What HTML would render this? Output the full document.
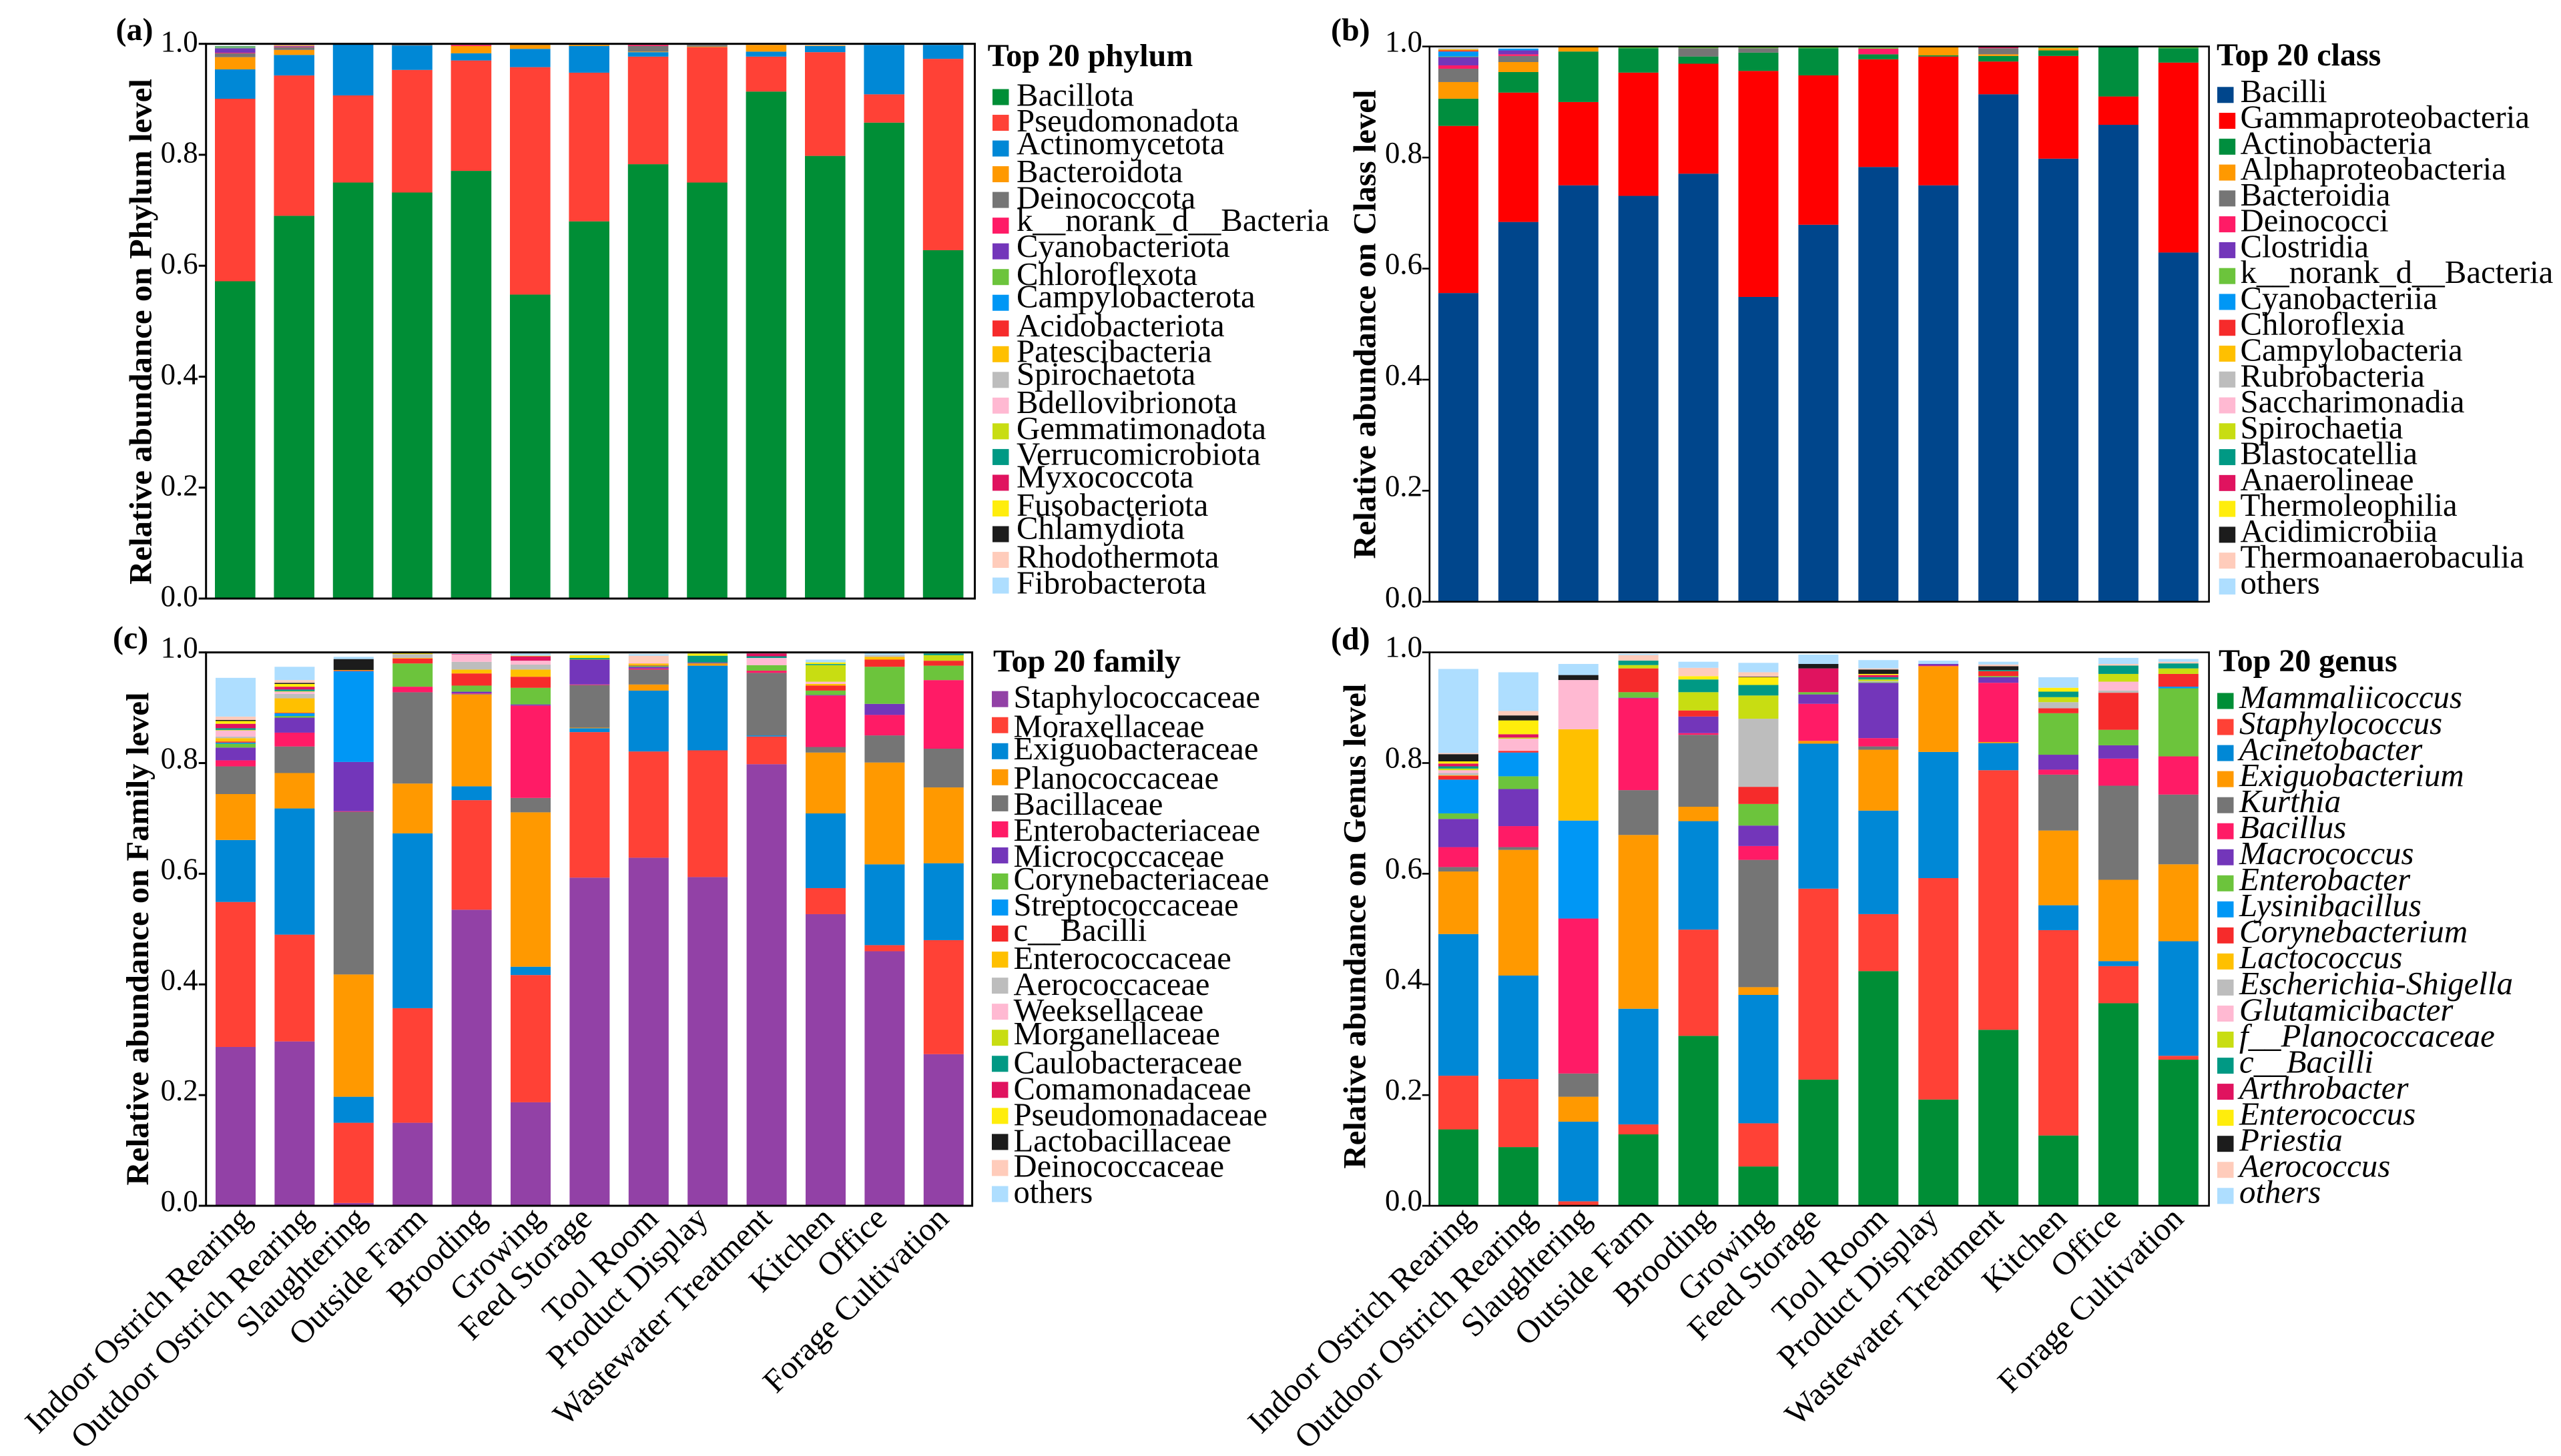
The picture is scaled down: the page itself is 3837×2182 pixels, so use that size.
<!DOCTYPE html>
<html lang="en">
<head>
<meta charset="utf-8">
<title>Relative abundance at phylum, class, family and genus level</title>
<style>
html,body{margin:0;padding:0;background:#fff;width:3837px;height:2182px;overflow:hidden}
svg{display:block}
text{font-family:"Liberation Serif",serif;fill:#000}
</style>
</head>
<body>
<svg id="chart" xmlns="http://www.w3.org/2000/svg" width="3837" height="2182" viewBox="0 0 3837 2182"></svg>
<script>
const categories = ["Indoor Ostrich Rearing","Outdoor Ostrich Rearing","Slaughtering","Outside Farm","Brooding","Growing","Feed Storage","Tool Room","Product Display","Wastewater Treatment","Kitchen","Office","Forage Cultivation"];
const tickValues = [0,0.2,0.4,0.6,0.8,1.0];
const tickLabels = ["0.0","0.2","0.4","0.6","0.8","1.0"];

/* Panel (a) phylum */
const phylumNames = ["Bacillota","Pseudomonadota","Actinomycetota","Bacteroidota","Deinococcota","k__norank_d__Bacteria","Cyanobacteriota","Chloroflexota","Campylobacterota","Acidobacteriota","Patescibacteria","Spirochaetota","Bdellovibrionota","Gemmatimonadota","Verrucomicrobiota","Myxococcota","Fusobacteriota","Chlamydiota","Rhodothermota","Fibrobacterota"];
const phyBacillota = [.572,.690,.750,.732,.771,.548,.680,.783,.750,.914,.798,.858,.628];
const phyPseudomonadota = [.329,.253,.157,.221,.199,.410,.268,.194,.244,.063,.187,.051,.345];
const phyActinomycetota = [.053,.037,.092,.044,.013,.033,.048,.008,0,.009,.011,.089,.025];
const phyBacteroidota = [.022,.009,0,0,.013,.007,.002,.001,.001,.012,.001,0,0];
const phyDeinococcota = [.007,.005,0,.002,0,.001,0,.010,.003,0,0,0,0];
const phyNorank = [.001,.001,0,0,.002,0,0,.002,0,0,0,0,0];
const phyCyanobacteriota = [.008,.001,0,0,0,0,0,0,0,0,0,0,0];
const phyChloroflexota = [.001,0,0,0,0,0,0,0,0,0,0,0,0];
const phyCampylobacterota = [.001,0,0,0,0,0,0,0,0,0,0,0,0];
const phyAcidobacteriota = [0,0,0,0,0,0,0,0,0,0,0,0,0];
const phyPatescibacteria = [.001,.001,0,0,0,0,0,0,0,0,0,0,0];
const phySpirochaetota = [0,.0005,0,0,0,0,0,0,0,0,0,0,0];
const phyBdellovibrionota = [0,0,0,0,0,0,0,0,0,0,0,0,0];
const phyGemmatimonadota = [0,0,0,0,0,0,0,0,0,0,0,0,0];
const phyVerrucomicrobiota = [.001,0,0,0,0,0,0,0,0,0,0,0,0];
const phyMyxococcota = [0,.0005,0,0,0,0,0,0,0,0,0,0,0];
const phyFusobacteriota = [0,0,0,0,0,0,0,0,0,0,0,0,0];
const phyChlamydiota = [0,0,0,0,0,0,0,0,0,0,0,0,0];
const phyRhodothermota = [0,0,0,0,0,0,0,0,0,0,0,0,0];
const phyFibrobacterota = [0,0,0,0,0,0,0,0,0,0,0,0,0];
const phylumSeries = [phyBacillota,phyPseudomonadota,phyActinomycetota,phyBacteroidota,phyDeinococcota,phyNorank,phyCyanobacteriota,phyChloroflexota,phyCampylobacterota,phyAcidobacteriota,phyPatescibacteria,phySpirochaetota,phyBdellovibrionota,phyGemmatimonadota,phyVerrucomicrobiota,phyMyxococcota,phyFusobacteriota,phyChlamydiota,phyRhodothermota,phyFibrobacterota];

/* Panel (b) class */
const classNames = ["Bacilli","Gammaproteobacteria","Actinobacteria","Alphaproteobacteria","Bacteroidia","Deinococci","Clostridia","k__norank_d__Bacteria","Cyanobacteriia","Chloroflexia","Campylobacteria","Rubrobacteria","Saccharimonadia","Spirochaetia","Blastocatellia","Anaerolineae","Thermoleophilia","Acidimicrobiia","Thermoanaerobaculia","others"];
const clsBacilli = [.556,.684,.750,.731,.771,.549,.679,.783,.750,.914,.798,.859,.629];
const clsGamma = [.301,.233,.150,.222,.198,.407,.269,.194,.232,.059,.185,.051,.342];
const clsActino = [.049,.037,.091,.044,.013,.033,.049,.009,.002,.010,.010,.089,.026];
const clsAlpha = [.030,.018,.008,0,0,0,0,0,.015,.003,.004,0,0];
const clsBacteroidia = [.024,.011,0,0,.015,.008,0,0,0,.011,0,0,0];
const clsDeinococci = [.006,.003,0,0,0,0,0,.010,0,.002,0,0,0];
const clsClostridia = [.015,.007,0,0,0,0,0,0,0,0,0,0,0];
const clsNorank = [.001,0,0,.002,.002,.002,.002,.002,.002,.002,.002,0,.002];
const clsCyano = [.009,.003,0,0,0,0,0,0,0,0,0,0,0];
const clsChloroflexia = [.002,0,0,0,0,0,0,0,0,0,0,0,0];
const clsCampylo = [.002,0,0,0,0,0,0,0,0,0,0,0,0];
const clsRubro = [.002,0,0,0,0,0,0,0,0,0,0,0,0];
const clsSaccharo = [0,0,0,0,0,0,0,0,0,0,0,0,0];
const clsSpiro = [0,0,0,0,0,0,0,0,0,0,0,0,0];
const clsBlasto = [0,0,0,0,0,0,0,0,0,0,0,0,0];
const clsAnaero = [0,0,0,0,0,0,0,0,0,0,0,0,0];
const clsThermoleo = [0,0,0,0,0,0,0,0,0,0,0,0,0];
const clsAcidimicro = [0,0,0,0,0,0,0,0,0,0,0,0,0];
const clsThermoanaero = [0,0,0,0,0,0,0,0,0,0,0,0,0];
const clsOthers = [0,.001,0,0,0,0,0,0,0,0,0,0,0];
const classSeries = [clsBacilli,clsGamma,clsActino,clsAlpha,clsBacteroidia,clsDeinococci,clsClostridia,clsNorank,clsCyano,clsChloroflexia,clsCampylo,clsRubro,clsSaccharo,clsSpiro,clsBlasto,clsAnaero,clsThermoleo,clsAcidimicro,clsThermoanaero,clsOthers];

/* Panel (c) family */
const familyNames = ["Staphylococcaceae","Moraxellaceae","Exiguobacteraceae","Planococcaceae","Bacillaceae","Enterobacteriaceae","Micrococcaceae","Corynebacteriaceae","Streptococcaceae","c__Bacilli","Enterococcaceae","Aerococcaceae","Weeksellaceae","Morganellaceae","Caulobacteraceae","Comamonadaceae","Pseudomonadaceae","Lactobacillaceae","Deinococcaceae","others"];
const famStaph = [.287,.297,.005,.150,.535,.187,.593,.629,.594,.798,.527,.460,.274];
const famMorax = [.262,.193,.145,.207,.198,.230,.263,.192,.229,.050,.047,.011,.206];
const famExig = [.112,.228,.047,.316,.025,.015,.007,.110,.153,.002,.135,.146,.139];
const famPlano = [.083,.064,.221,.090,.166,.279,.001,.011,.004,0,.110,.184,.137];
const famBacill = [.050,.048,.294,.165,.001,.026,.077,.027,.001,.113,.010,.049,.070];
const famEntero = [.011,.025,.001,.010,.001,.167,.001,.002,0,.004,.093,.037,.124];
const famMicro = [.023,.027,.089,0,.003,.002,.045,.003,.001,0,.001,.020,0];
const famCoryne = [.007,.003,0,.042,.011,.030,.001,.002,0,.010,.008,.067,.026];
const famStrep = [.002,.005,.164,0,0,0,0,0,0,0,0,0,0];
const famCBacilli = [.002,.001,.001,.009,.022,.020,0,.001,0,0,.009,.013,.009];
const famEnteroc = [.006,.026,.001,.001,.007,.013,0,.003,0,0,.003,.005,0];
const famAero = [.003,.008,0,.007,.014,.009,0,0,0,0,0,.003,0];
const famWeeks = [.011,.004,0,0,.013,.007,0,.002,0,.013,.004,0,0];
const famMorgan = [.001,.001,0,0,0,0,0,0,0,0,.030,0,.010];
const famCaulo = [.003,.003,0,0,0,0,.002,0,.012,.003,.002,0,.003];
const famComa = [.008,.005,0,0,.001,.008,0,0,0,.005,0,0,0];
const famPseudo = [.005,.005,0,.003,0,.001,.005,0,.004,0,.003,0,0];
const famLacto = [.002,.002,.020,0,0,0,0,0,0,0,0,0,0];
const famDeino = [.006,.005,0,0,0,0,0,.012,0,0,0,0,0];
const famOthers = [.070,.024,.004,0,.001,.004,.002,.003,0,0,.005,.005,0];
const familySeries = [famStaph,famMorax,famExig,famPlano,famBacill,famEntero,famMicro,famCoryne,famStrep,famCBacilli,famEnteroc,famAero,famWeeks,famMorgan,famCaulo,famComa,famPseudo,famLacto,famDeino,famOthers];

/* Panel (d) genus */
const genusNames = ["Mammaliicoccus","Staphylococcus","Acinetobacter","Exiguobacterium","Kurthia","Bacillus","Macrococcus","Enterobacter","Lysinibacillus","Corynebacterium","Lactococcus","Escherichia-Shigella","Glutamicibacter","f__Planococcaceae","c__Bacilli","Arthrobacter","Enterococcus","Priestia","Aerococcus","others"];
const genMamm = [.138,.106,0,.129,.307,.071,.228,.424,.192,.318,.127,.366,.264];
const genStaph = [.097,.123,.008,.018,.192,.078,.345,.103,.400,.469,.371,.067,.007];
const genAcin = [.256,.187,.144,.209,.196,.232,.262,.187,.228,.049,.045,.009,.207];
const genExig = [.113,.227,.045,.314,.026,.014,.005,.110,.155,.002,.135,.147,.139];
const genKurth = [.008,.005,.042,.081,.130,.230,0,.006,0,0,.101,.170,.126];
const genBacil = [.036,.038,.280,.166,.003,.025,.067,.015,.001,.107,.009,.049,.069];
const genMacro = [.051,.067,0,.001,.030,.037,.017,.100,.003,.010,.027,.024,0];
const genEntero = [.010,.023,0,.010,0,.039,.004,.001,0,.002,.075,.028,.123];
const genLysin = [.061,.043,.177,0,0,0,0,0,0,0,0,0,.003];
const genCoryne = [.007,.003,0,.043,.011,.031,0,0,0,.009,.009,.067,.023];
const genLacto = [.001,0,.165,0,0,0,0,0,0,0,0,0,0];
const genEsch = [.004,0,0,0,0,.123,0,.002,0,0,.011,.004,0];
const genGluta = [.005,.022,.089,0,0,0,0,0,0,0,0,.016,0];
const genFPlano = [.003,.002,0,.006,.033,.042,0,.003,0,0,.009,.014,.010];
const genCBacilli = [.004,0,0,.008,.023,.019,0,.004,0,.002,.010,.015,.009];
const genArthro = [.005,.006,0,0,0,0,.043,.004,0,0,0,0,0];
const genEnteroc = [.004,.025,0,0,.006,.014,0,.002,0,0,.007,0,0];
const genPriest = [.013,.009,.009,0,0,.001,.008,.008,0,.007,0,0,0];
const genAero = [.002,.008,0,.010,.015,.008,0,.002,0,.003,0,.003,.003];
const genOthers = [.152,.070,.020,.002,.011,.017,.017,.015,.006,.005,.019,.011,.005];
const genusSeries = [genMamm,genStaph,genAcin,genExig,genKurth,genBacil,genMacro,genEntero,genLysin,genCoryne,genLacto,genEsch,genGluta,genFPlano,genCBacilli,genArthro,genEnteroc,genPriest,genAero,genOthers];

/* Colours */
const paletteTail = ["#ff9900","#757575","#ff1b66","#7336ba","#6cc43c","#0097f5","#f62b2b","#ffc000","#bdbdbd","#ffb9d2","#c8dd12","#009984","#e0135f","#ffed0c","#1c1c1c","#ffccbb","#aedeff"];
const colorsA = ["#008e36","#ff4136","#0088d6"].concat(paletteTail);
const colorsB = ["#00468c","#ff0000","#008e3e"].concat(paletteTail);
const colorsC = ["#9241a6","#ff4136","#0088d6"].concat(paletteTail);
const colorsD = colorsA;

/* Layout of the individual panels */
const legendTextNudgeA = [13,13,8.5,12,13,8,8.5,12,7,11.5,11.5,7,11,11.5,11.5,7,11,7,11.5,12];
const legendTextNudgeB = [10.5,10.5,10.5,10.5,10.5,10.5,10.5,10.5,10.5,10.5,10.5,10.5,10.5,10.5,10.5,10.5,10.5,10.5,10.5,10.5];
const legendTextNudgeC = [13,18,12,17,17,17,17,12,12,11,14,14,14,10,14,14,14,14,13,13];
const legendTextNudgeD = [10.3,10.3,10.3,10.3,10.3,10.3,10.3,10.3,10.3,10.3,10.3,10.3,10.3,10.3,10.3,10.3,10.3,10.3,10.3,10.3];
const xLabelShift = [26,29,21,24,24,22,6,17,3,10,15,6,10];

const panels = [
 {id:"a",letter:"(a)",letterX:173.5,letterY:60,names:phylumNames,series:phylumSeries,colors:colorsA,left:308.7,right:1460.5,top:65.7,bottom:897,strokeW:3,barX:322,pitch:88.4,barW:60.6,tickDy:11.6,tickRight:296.6,
  title:"Relative abundance on Phylum level",titleX:226.4,titleY:497,titleLen:758,legendTitle:"Top 20 phylum",legendTitleX:1479.6,legendTitleY:98.8,markerX:1487,firstDx:0,markerTop:145.5,markerPitch:38.53,textX:1523,nudge:legendTextNudgeA,legendFont:48.8,italic:false,xLabels:false},
 {id:"b",letter:"(b)",letterX:1994,letterY:60.6,names:classNames,series:classSeries,colors:colorsB,left:2141.8,right:3309.6,top:69.7,bottom:901.8,strokeW:2.6,barX:2155,pitch:89.9,barW:60,tickDy:8,tickRight:2131,
  title:"Relative abundance on Class level",titleX:2060.5,titleY:486,titleLen:703,legendTitle:"Top 20 class",legendTitleX:3321,legendTitleY:97.9,markerX:3324.7,firstDx:-2.7,markerTop:142.3,markerPitch:38.77,textX:3356.5,nudge:legendTextNudgeB,legendFont:48.8,italic:false,xLabels:false},
 {id:"c",letter:"(c)",letterX:169,letterY:971.7,names:familyNames,series:familySeries,colors:colorsC,left:308.7,right:1456.6,top:977.7,bottom:1807,strokeW:3,barX:323,pitch:88.4,barW:60,tickDy:8,tickRight:296.6,
  title:"Relative abundance on Family level",titleX:222,titleY:1407,titleLen:739,legendTitle:"Top 20 family",legendTitleX:1488,legendTitleY:1006.3,markerX:1486,firstDx:0,markerTop:1047.7,markerPitch:39.04,textX:1518.5,nudge:legendTextNudgeC,legendFont:48.6,italic:false,xLabels:true},
 {id:"d",letter:"(d)",letterX:1994,letterY:973,names:genusNames,series:genusSeries,colors:colorsD,left:2141.8,right:3309.6,top:977.6,bottom:1807,strokeW:2.6,barX:2155,pitch:89.9,barW:60,tickDy:7,tickRight:2131,
  title:"Relative abundance on Genus level",titleX:2045.6,titleY:1388,titleLen:727,legendTitle:"Top 20 genus",legendTitleX:3324,legendTitleY:1006,markerX:3322,firstDx:0,markerTop:1050.5,markerPitch:39.04,textX:3355,nudge:legendTextNudgeD,legendFont:48.9,italic:true,xLabels:true}
];

const SVGNS = "http://www.w3.org/2000/svg";
const svg = document.getElementById("chart");
function make(tag, attrs, parent, txt){
  const el = document.createElementNS(SVGNS, tag);
  for (const k in attrs) el.setAttribute(k, attrs[k]);
  if (txt !== undefined) el.textContent = txt;
  parent.appendChild(el);
  return el;
}
function slug(s){ return s.toLowerCase().replace(/[^a-z0-9]+/g,"-").replace(/^-|-$/g,""); }

panels.forEach(function(p){
  const g = make("g", {}, svg);
  
  
  const yScale = function(v){ return p.bottom - v * (p.bottom - p.top); };
  const xScale = function(i){ return p.barX + i * p.pitch; };

  /* stacked bars */
  categories.forEach(function(cat, i){
    let running = 0;
    const barGroup = make("g", {}, g);
    
    
    p.series.forEach(function(values, s){
      const v = values[i];
      if (!v) return;
      const yTop = yScale(running + v);
      const yBot = yScale(running);
      const seg = make("rect", {x:xScale(i), y:yTop, width:p.barW, height:yBot - yTop, fill:p.colors[s]}, barGroup);
      
      
      running += v;
    });
  });

  /* frame */
  const frame = make("rect", {x:p.left, y:p.top, width:p.right - p.left, height:p.bottom - p.top, fill:"none", stroke:"#000", "stroke-width":p.strokeW}, g);
  
  

  /* y ticks */
  tickValues.forEach(function(t, i){
    const y = yScale(t);
    const tick = make("line", {x1:p.left - 11, x2:p.left, y1:y, y2:y, stroke:"#000", "stroke-width":p.strokeW}, g);
    
    
    const lab = make("text", {x:p.tickRight, y:y + p.tickDy, "text-anchor":"end", "font-size":46, textLength:56, lengthAdjust:"spacingAndGlyphs"}, g, tickLabels[i]);
    
    
  });

  /* y title */
  const yt = make("text", {transform:"translate(" + p.titleX + "," + p.titleY + ") rotate(-90)", "text-anchor":"middle", "font-size":48, "font-weight":"bold", textLength:p.titleLen, lengthAdjust:"spacingAndGlyphs"}, g, p.title);
  
  

  /* panel letter */
  const letter = make("text", {x:p.letterX, y:p.letterY, "font-size":48, "font-weight":"bold"}, g, p.letter);
  
  

  /* x labels */
  if (p.xLabels) {
    categories.forEach(function(cat, i){
      const X = xScale(i) + p.barW / 2 + xLabelShift[i];
      const lab = make("text", {transform:"translate(" + X + ",1829) rotate(-45)", "text-anchor":"end", "font-size":49}, g, cat);
      
      
    });
  }

  /* legend */
  const legend = make("g", {}, g);
  
  
  const lt = make("text", {x:p.legendTitleX, y:p.legendTitleY, "font-size":48, "font-weight":"bold"}, legend, p.legendTitle);
  
  
  p.names.forEach(function(name, s){
    const cy = p.markerTop + s * p.markerPitch;
    const mx = p.markerX + (s === 0 ? p.firstDx : 0);
    const entry = make("g", {}, legend);
    
    
    const swatch = make("rect", {x:mx, y:cy - 12, width:24.5, height:24, fill:p.colors[s]}, entry);
    
    
    const t = make("text", {x:p.textX, y:cy + p.nudge[s], "font-size":p.legendFont, "font-style":p.italic ? "italic" : "normal"}, entry, name);
    
    
  });
});
</script>
</body>
</html>
